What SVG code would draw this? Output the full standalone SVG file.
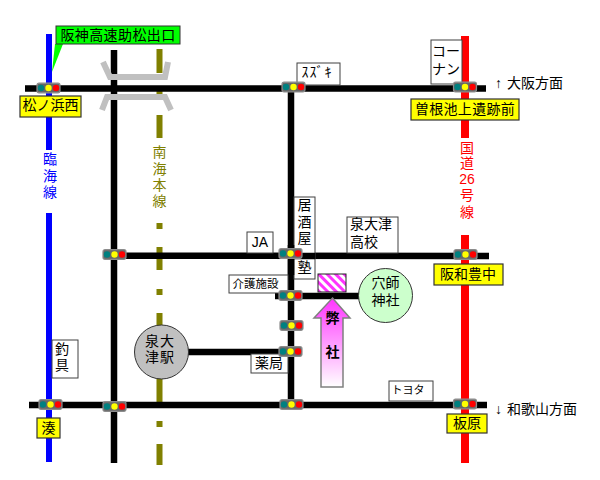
<svg xmlns="http://www.w3.org/2000/svg" width="600" height="480" viewBox="0 0 600 480">
<style>
text{font-family:"Liberation Sans","Noto Sans CJK JP",sans-serif;font-size:14px;fill:#000;text-anchor:middle;dominant-baseline:central}
.road{fill:none;stroke:#000;stroke-width:6.5}
.olive{fill:none;stroke:#808000;stroke-width:6}
.bridge{fill:none;stroke:#c0c0c0;stroke-width:6}
.box{fill:#fff;stroke:#404040;stroke-width:1}
.ybox{fill:#ff0;stroke:#333;stroke-width:1.2}
.sig{fill:#666;stroke:#8c8c8c;stroke-width:1.2}
.l{text-anchor:start}
</style>
<defs>
<g id="sg">
<rect class="sig" x="-11.5" y="-4.8" width="23" height="9.6" rx="2"/>
<circle cx="-7.5" r="3.2" fill="#008080"/><circle r="3.2" fill="#ff0"/><circle cx="7.5" r="3.2" fill="#f00"/>
</g>
<pattern id="hatch" width="6" height="6" patternUnits="userSpaceOnUse" patternTransform="rotate(-45)">
<rect width="6" height="6" fill="#fff"/><rect width="3" height="6" fill="#ff33ff"/>
</pattern>
<linearGradient id="arrowFill" x1="0" y1="0" x2="0" y2="1">
<stop offset="0" stop-color="#ff33ff"/><stop offset="1" stop-color="#fff"/>
</linearGradient>
</defs>

<g id="connectors">
<path id="rinkai-line" d="M49 34V150M49 213V462" fill="none" stroke="#00f" stroke-width="6"/>
<path id="route26" d="M465 36V138M465 235V463" fill="none" stroke="#f00" stroke-width="8"/>
<path class="olive" d="M159.500 49V73M159.500 88V95M159.500 115V138M159.500 223V229M159.500 247V270M159.500 289V295M159.500 313V330M159.500 376V402M159.500 421V427M159.500 444V465"/>
<path class="road" d="M25 88.500H486M114 50V463M291 87V405M114 255.500L489 256M275 296H360M185 352H291M29 405H487"/>
<path class="bridge" d="M103 62L110 77H165L168 62M102 110L107 97H165L171 110"/>
</g>

<g id="label-hanshin"><polygon points="55,44 63,44 52,72" fill="#0f0"/><rect x="56" y="26" width="124" height="18" fill="#0f0" stroke="#333"/><text x="118" y="34.500" letter-spacing=".4">阪神高速助松出口</text></g>
<g id="label-matsunohama"><rect class="ybox" x="20" y="96" width="61" height="21"/><text x="50.500" y="105">松ノ浜西</text></g>
<g id="label-suzuki"><rect class="box" x="297" y="63" width="43" height="22"/><text x="317" y="72" letter-spacing="1">ｽｽﾞｷ</text></g>
<g id="label-konan"><rect class="box" x="431" y="40" width="31" height="44"/><text><tspan x="446" y="51">コー</tspan><tspan x="446" y="69">ナン</tspan></text></g>
<g id="label-sone"><rect class="ybox" x="411" y="99" width="108" height="21"/><text x="465" y="108.500" letter-spacing=".3">曽根池上遺跡前</text></g>
<g id="dir-osaka"><text class="l" y="83"><tspan x="495">↑</tspan><tspan x="507">大阪方面</tspan></text></g>
<g id="label-route26"><text style="fill:#f00"><tspan x="467" y="147.500">国</tspan><tspan x="467" y="163">道</tspan><tspan x="467" y="179">26</tspan><tspan x="467" y="195">号</tspan><tspan x="467" y="212">線</tspan></text></g>
<g id="label-nankai"><text style="fill:#808000"><tspan x="159.500" y="152">南</tspan><tspan x="159.500" y="169">海</tspan><tspan x="159.500" y="185">本</tspan><tspan x="159.500" y="201">線</tspan></text></g>
<g id="label-rinkai"><text style="fill:#00f"><tspan x="50" y="159">臨</tspan><tspan x="50" y="176">海</tspan><tspan x="50" y="192">線</tspan></text></g>
<g id="label-izakaya"><rect class="box" x="294" y="197" width="21" height="82"/><path class="road" d="M291 245V275M294 256H315"/><text><tspan x="304.500" y="205">居</tspan><tspan x="304.500" y="222">酒</tspan><tspan x="304.500" y="238">屋</tspan><tspan x="304.500" y="267">塾</tspan></text></g>
<g id="label-ja"><rect class="box" x="247" y="232" width="26" height="21"/><text x="260" y="242">JA</text></g>
<g id="label-school"><rect class="box" x="347" y="217" width="51" height="36"/><text class="l"><tspan x="350" y="224">泉大津</tspan><tspan x="350" y="242">高校</tspan></text></g>
<g id="label-care"><rect class="box" x="229" y="275" width="59" height="18"/><text x="255.500" y="284" style="font-size:11.500px">介護施設</text></g>
<g id="site"><rect x="318" y="274" width="28" height="18" fill="url(#hatch)" stroke="#222"/></g>
<g id="shrine"><circle cx="385.500" cy="295.500" r="27" fill="#cfc" stroke="#333"/><text><tspan x="385.500" y="283">穴師</tspan><tspan x="385.500" y="300">神社</tspan></text></g>
<g id="arrow-company"><polygon points="332.500,298 350,318 343,318 343,387 321,387 321,318 314,318" fill="url(#arrowFill)" stroke="#808080" stroke-width="1.500"/><text style="font-weight:700"><tspan x="332.500" y="318">弊</tspan><tspan x="332.500" y="352">社</tspan></text></g>
<g id="station"><circle cx="161.500" cy="352" r="27" fill="#c0c0c0" stroke="#333"/><text letter-spacing="1"><tspan x="160" y="340.500">泉大</tspan><tspan x="160" y="357">津駅</tspan></text></g>
<g id="label-fishing"><rect class="box" x="52" y="340" width="26" height="38"/><text><tspan x="62" y="349">釣</tspan><tspan x="62" y="365">具</tspan></text></g>
<g id="label-minato"><rect class="ybox" x="37" y="418" width="23" height="20"/><text x="48.500" y="427.500">湊</text></g>
<g id="label-pharmacy"><rect class="box" x="251" y="354" width="37" height="19"/><text x="269" y="363">薬局</text></g>
<g id="label-toyota"><rect class="box" x="389" y="381" width="44" height="20"/><text x="408" y="390" style="font-size:11px">トヨタ</text></g>
<g id="label-itahara"><rect class="ybox" x="447" y="414" width="40" height="19"/><text x="467" y="423">板原</text></g>
<g id="label-hanwa"><rect class="ybox" x="434" y="264" width="69" height="21"/><text x="468" y="274">阪和豊中</text></g>
<g id="dir-wakayama"><text class="l" y="409"><tspan x="495">↓</tspan><tspan x="507">和歌山方面</tspan></text></g>

<g id="signals">
<use href="#sg" x="48.500" y="88"/>
<use href="#sg" x="293.500" y="87"/>
<use href="#sg" x="465" y="87"/>
<use href="#sg" x="114.500" y="254.500"/>
<use href="#sg" x="290.500" y="253.500"/>
<use href="#sg" x="465.500" y="254.500"/>
<use href="#sg" x="290.500" y="295.500"/>
<use href="#sg" x="291.500" y="325.500"/>
<use href="#sg" x="290.500" y="351.500"/>
<use href="#sg" x="291.500" y="404.500"/>
<use href="#sg" x="50.500" y="404.500"/>
<use href="#sg" x="114.500" y="406.500"/>
<use href="#sg" x="465" y="404"/>
</g>
</svg>
